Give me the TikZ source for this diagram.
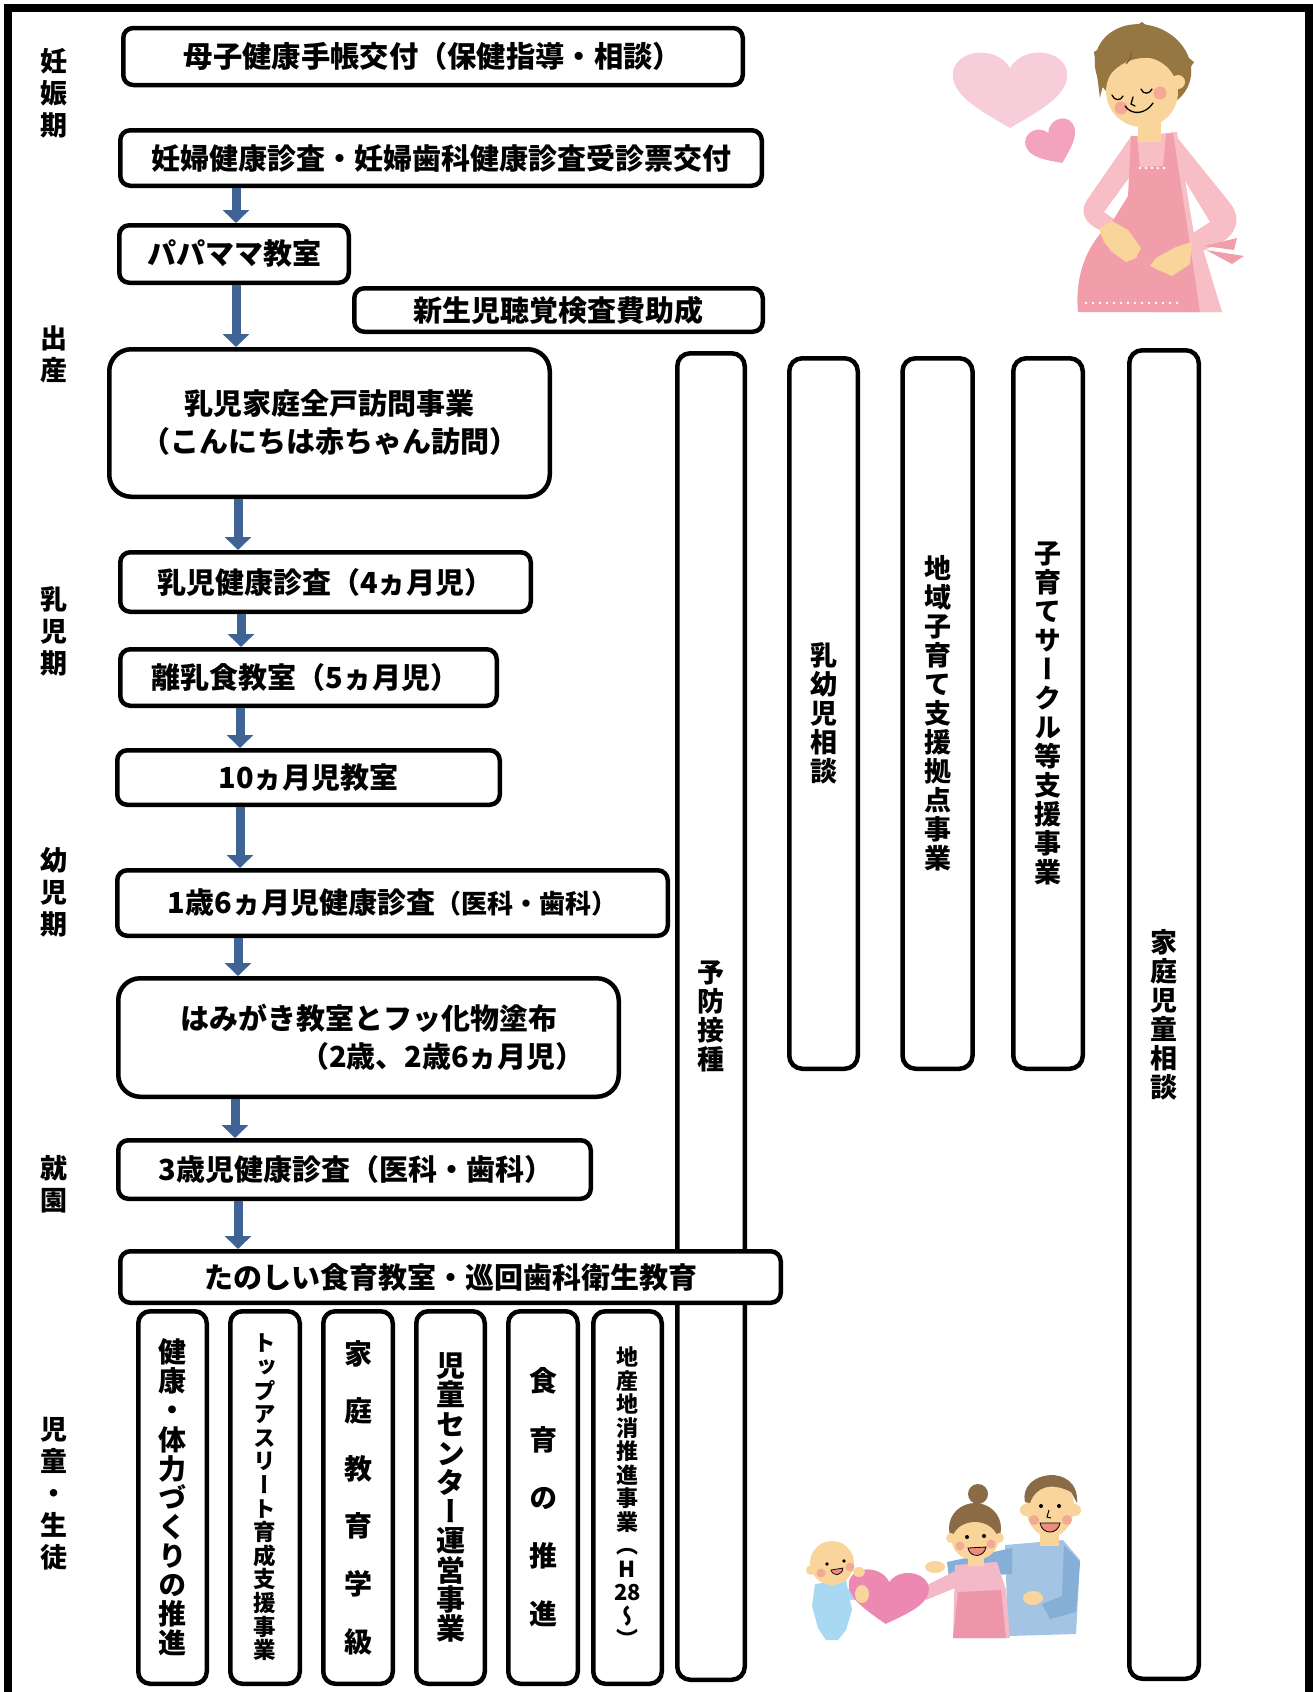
\documentclass[tikz,border=0pt]{standalone}
\usepackage{fontspec}
\newfontfamily\jp{Noto Sans CJK JP}
\newfontfamily\jpv{Noto Sans CJK JP}[RawFeature=+vert]
\usetikzlibrary{arrows.meta}
\definecolor{flowblue}{RGB}{62,99,148}
\definecolor{hair}{RGB}{150,118,65}
\definecolor{hairdark}{RGB}{139,107,69}
\definecolor{skin}{RGB}{250,213,155}
\definecolor{cheek}{RGB}{244,168,150}
\definecolor{sweater}{RGB}{247,190,198}
\definecolor{apron}{RGB}{242,158,170}
\definecolor{heartlight}{RGB}{247,205,217}
\definecolor{heartmid}{RGB}{243,163,190}
\definecolor{heartdeep}{RGB}{236,136,178}
\definecolor{shirtblue}{RGB}{163,196,226}
\definecolor{sleeveblue}{RGB}{133,175,215}
\definecolor{babyblue}{RGB}{168,216,242}
\definecolor{mouth}{RGB}{238,140,125}
\definecolor{momtop}{RGB}{244,185,200}
\definecolor{momapron}{RGB}{237,150,170}

\tikzset{
  heartpic/.pic={
    \fill[pic actions] (0,1) .. controls (-0.55,0.55) and (-1.05,0.15) .. (-1,-0.4)
      .. controls (-0.95,-0.95) and (-0.25,-1.1) .. (0,-0.5)
      .. controls (0.25,-1.1) and (0.95,-0.95) .. (1,-0.4)
      .. controls (1.05,0.15) and (0.55,0.55) .. (0,1) -- cycle;
  }
}

\begin{document}
\begin{tikzpicture}[x=1pt,y=-1pt,
  box/.style={draw,line width=4.5pt,fill=white,rounded corners=10pt,inner sep=0pt,
    align=center,font=\jp\bfseries\fontsize{29}{38}\selectfont},
  bigbox/.style={box,rounded corners=22pt},
  tall/.style={box,rounded corners=13pt,font=\jpv\bfseries\fontsize{27}{29}\selectfont},
  col/.style={box,rounded corners=12pt,minimum height=372.5pt},
  period/.style={inner sep=0pt,align=center,font=\jp\bfseries\fontsize{27}{32}\selectfont},
  flow/.style={draw=flowblue,line width=9pt,-{Triangle[width=26pt,length=13pt]}},
  face/.style={line width=1.3pt,line cap=round}
]
\useasboundingbox (0,0) rectangle (1313,1692);

% outer frame (open at the bottom)
\draw[line width=8pt] (7.5,1700) -- (7.5,8) -- (1309,8) -- (1309,1700);

% ---- period labels ----
\node[period] (p1) at (54,93) {妊\\娠\\期};
\node[period] (p2) at (54,354) {出\\産};
\node[period] (p3) at (54,631) {乳\\児\\期};
\node[period] (p4) at (54,892) {幼\\児\\期};
\node[period] (p5) at (54,1184) {就\\園};
\node[period] (p6) at (54,1494) {児\\童\\・\\生\\徒};

% ---- long vertical programmes ----
\node[tall,minimum width=67.5pt,minimum height=1326.5pt] (v1) at (711,1016.5) {予\\防\\接\\種};
\node[tall,minimum width=68.5pt,minimum height=710.5pt] (v2) at (823.5,713.5) {乳\\幼\\児\\相\\談};
\node[tall,minimum width=70pt,minimum height=710.5pt] (v3) at (937.5,713.5) {地\\域\\子\\育\\て\\支\\援\\拠\\点\\事\\業};
\node[tall,minimum width=69.5pt,minimum height=710.5pt] (v4) at (1048,713.5) {子\\育\\て\\サ\\ー\\ク\\ル\\等\\支\\援\\事\\業};
\node[tall,minimum width=69.5pt,minimum height=1328.5pt] (v5) at (1164,1014.5) {家\\庭\\児\\童\\相\\談};

% ---- flow of services ----
\node[box,minimum width=619.5pt,minimum height=57pt,font=\jp\bfseries\fontsize{29.3}{38}\selectfont] (b1) at (433,56.5) {母子健康手帳交付（保健指導・相談）};
\node[box,minimum width=641.5pt,minimum height=55.5pt] (b2) at (441,158) {妊婦健康診査・妊婦歯科健康診査受診票交付};
\node[box,minimum width=229.5pt,minimum height=57.5pt] (b3) at (234,254) {パパママ教室};
\node[box,minimum width=408.5pt,minimum height=43.5pt] (b4) at (558.5,310) {新生児聴覚検査費助成};
\node[bigbox,minimum width=440.5pt,minimum height=147.5pt] (b5) at (329.5,423) {乳児家庭全戸訪問事業\\（こんにちは赤ちゃん訪問）};
\node[box,minimum width=410.5pt,minimum height=59.5pt] (b6) at (325.5,582) {乳児健康診査（4ヵ月児）};
\node[box,minimum width=376.5pt,minimum height=56.5pt] (b7) at (308.5,677.5) {離乳食教室（5ヵ月児）\hspace*{6pt}};
\node[box,minimum width=382.5pt,minimum height=54.5pt] (b8) at (308.5,777.5) {10ヵ月児教室};
\node[box,minimum width=550.5pt,minimum height=65.5pt] (b9) at (392.5,903) {1歳6ヵ月児健康診査{\fontsize{26}{26}\selectfont（医科・歯科）}};
\node[bigbox,minimum width=500.5pt,minimum height=118.5pt] (b10) at (368.5,1037.5) {はみがき教室とフッ化物塗布\\\hspace*{148pt}（2歳、2歳6ヵ月児）};
\node[box,minimum width=472.5pt,minimum height=58.5pt] (b11) at (354.5,1169.5) {\hspace*{3pt}3歳児健康診査（医科・歯科）};
\node[box,minimum width=660.5pt,minimum height=51.5pt] (b12) at (450.5,1277) {たのしい食育教室・巡回歯科衛生教育};

% ---- school-age programmes ----
\node[col,minimum width=68.5pt,font=\jpv\bfseries\fontsize{28}{29.1}\selectfont] (c1) at (172.5,1497.5) {健\\康\\・\\体\\力\\づ\\く\\り\\の\\推\\進};
\node[col,minimum width=69.5pt,font=\jpv\bfseries\fontsize{22.5}{23.6}\selectfont] (c2) at (265,1497.5) {ト\\ッ\\プ\\ア\\ス\\リ\\ー\\ト\\育\\成\\支\\援\\事\\業};
\node[col,minimum width=69.5pt,font=\jpv\bfseries\fontsize{28}{57.6}\selectfont] (c3) at (358,1497.5) {家\\庭\\教\\育\\学\\級};
\node[col,minimum width=68.5pt,font=\jpv\bfseries\fontsize{29}{29.2}\selectfont] (c4) at (450.5,1497.5) {児\\童\\セ\\ン\\タ\\ー\\運\\営\\事\\業};
\node[col,minimum width=69.5pt,font=\jpv\bfseries\fontsize{28}{58.2}\selectfont] (c5) at (543,1497.5) {食\\育\\の\\推\\進};
\node[col,minimum width=68.5pt,font=\jpv\bfseries\fontsize{22}{23.5}\selectfont] (c6) at (627.5,1497.5) {地\\産\\地\\消\\推\\進\\事\\業\\（\\H\\28\\～\\）};

% ---- arrows ----
\coordinate (ax1) at (236,0);
\coordinate (ax2) at (238,0);
\coordinate (ax3) at (241,0);
\coordinate (ax4) at (240,0);
\coordinate (ax5) at (235,0);
\draw[flow] (b2.south -| ax1) -- (b3.north -| ax1);
\draw[flow] (b3.south -| ax1) -- (b5.north -| ax1);
\draw[flow] (b5.south -| ax2) -- (b6.north -| ax2);
\draw[flow] (b6.south -| ax3) -- (b7.north -| ax3);
\draw[flow] (b7.south -| ax4) -- (b8.north -| ax4);
\draw[flow] (b8.south -| ax4) -- (b9.north -| ax4);
\draw[flow] (b9.south -| ax2) -- (b10.north -| ax2);
\draw[flow] (b10.south -| ax5) -- (b11.north -| ax5);
\draw[flow] (b11.south -| ax2) -- (b12.north -| ax2);

% ---- hearts and expectant mother ----
\pic[fill=heartlight,xscale=57,yscale=40] at (1010,88) {heartpic};
\pic[fill=heartmid,rotate=25,xscale=26,yscale=22] at (1053,143) {heartpic};

% arms and sweater
\fill[sweater] (1132,135) -- (1087,200) .. controls (1079,212) and (1085,224) .. (1100,230)
  -- (1116,240) -- (1124,226) -- (1104,212) -- (1142,160) -- cycle;
\fill[sweater] (1172,131) -- (1230,203) .. controls (1242,218) and (1236,234) .. (1222,242)
  -- (1192,256) -- (1182,240) -- (1210,222) -- (1176,166) -- cycle;
\fill[sweater] (1130,137) -- (1177,132) -- (1196,246) -- (1222,312) -- (1150,312) -- cycle;
% neck and head
\fill[skin] (1138,118) rectangle (1161,142);
\fill[hair,rotate around={-20:(1143,67)}] (1143,67) ellipse [x radius=49pt,y radius=42pt];
\fill[skin,rotate around={-15:(1142,92)}] (1142,92) ellipse [x radius=36pt,y radius=35pt];
\fill[hair] (1100,98) .. controls (1104,70) and (1128,56) .. (1150,58)
  .. controls (1166,60) and (1177,70) .. (1181,82) -- (1194,62) -- (1142,22) -- (1094,52) -- cycle;
\draw[line width=1pt,hair!80!black] (1126,64) .. controls (1130,60) and (1132,56) .. (1131,52);
\fill[skin] (1178,82) circle (7pt);
\fill[cheek] (1121,108) circle (6.5pt);
\fill[cheek] (1160,93) circle (6.5pt);
\draw[face] (1112,95) .. controls (1114,101) and (1121,101) .. (1123,96);
\draw[face] (1141,89) .. controls (1143,95) and (1150,94) .. (1152,89);
\draw[face] (1133,97) -- (1131,104) -- (1135,106);
\draw[face] (1125,106) .. controls (1132,116) and (1146,114) .. (1153,103);
% apron
\fill[apron] (1131,136) -- (1137,136) -- (1140,167) -- (1163,166) -- (1166,134) -- (1173,133)
  -- (1178,166) -- (1188,232) -- (1200,312) -- (1078,312)
  .. controls (1074,272) and (1090,240) .. (1112,222) -- (1128,196) -- cycle;
\fill[sweater] (1192,246) -- (1202,246) -- (1222,312) -- (1200,312) -- cycle;
\foreach \i in {0,...,4} \fill[white] (1140+\i*6,168) circle (1.3pt);
\foreach \i in {0,...,13} \fill[white] (1086+\i*7,303) circle (1.3pt);
\fill[apron] (1204,246) -- (1237,238) -- (1234,250) -- cycle;
\fill[apron] (1206,250) -- (1244,256) -- (1232,264) -- cycle;
% hands
\fill[skin] (1099,229) -- (1112,221) -- (1128,230) -- (1141,248) -- (1136,258) -- (1126,262)
  -- (1112,252) -- (1104,242) -- cycle;
\fill[skin] (1192,242) -- (1176,247) -- (1156,258) -- (1150,266) -- (1158,270) -- (1172,276)
  -- (1190,264) -- cycle;

% ---- family ----
% father
\fill[shirtblue] (1005,1545) -- (1063,1540) -- (1080,1560) -- (1076,1634) -- (1008,1636) -- cycle;
\fill[sleeveblue] (1012,1548) -- (947,1562) -- (949,1578) -- (1012,1574) -- cycle;
\fill[sleeveblue] (1064,1545) -- (1080,1562) -- (1076,1612) -- (1050,1619) -- (1042,1604)
  -- (1062,1596) -- cycle;
\fill[skin] (1040,1528) rectangle (1059,1546);
\fill[skin] (1050,1507) ellipse [x radius=24pt,y radius=30pt];
\fill[skin] (1026,1510) circle (6pt);
\fill[skin] (1075,1510) circle (6pt);
\fill[hairdark] (1025,1502) .. controls (1018,1470) and (1080,1462) .. (1077,1503)
  -- (1071,1492) .. controls (1052,1482) and (1036,1486) .. (1030,1503) -- cycle;
\fill[cheek] (1034,1520) circle (5pt);
\fill[cheek] (1067,1520) circle (5pt);
\fill (1041,1506) circle (2pt);
\fill (1059,1506) circle (2pt);
\draw[line width=1pt] (1049,1510) -- (1047,1517) -- (1051,1518);
\fill[mouth,draw=black,line width=0.8pt] (1040,1523) -- (1060,1523) .. controls (1058,1535) and (1042,1535) .. (1040,1523) -- cycle;
\fill[skin] (1033,1598) ellipse [x radius=10pt,y radius=7pt];
% mother
\fill[momtop] (955,1565) -- (997,1562) -- (1006,1590) -- (1010,1638) -- (953,1638) -- cycle;
\fill[momapron] (958,1592) -- (1001,1590) -- (1006,1638) -- (953,1638) -- cycle;
\fill[momtop] (957,1570) -- (921,1588) -- (926,1600) -- (960,1586) -- cycle;
\fill[skin] (968,1552) rectangle (984,1566);
\fill[hairdark] (978,1494) circle (10pt);
\fill[hairdark] (975,1528) ellipse [x radius=26pt,y radius=25pt];
\fill[skin] (975,1541) ellipse [x radius=23pt,y radius=19pt];
\fill[skin] (951,1538) circle (5pt);
\fill[skin] (999,1538) circle (5pt);
\fill[cheek] (960,1546) circle (4.5pt);
\fill[cheek] (991,1544) circle (4.5pt);
\fill (967,1537) circle (2pt);
\fill (984,1536) circle (2pt);
\fill[mouth,draw=black,line width=0.8pt] (968,1548) -- (986,1547) .. controls (984,1558) and (970,1558) .. (968,1548) -- cycle;
\fill[skin] (920,1590) ellipse [x radius=9pt,y radius=7pt];
\fill[skin] (935,1567) ellipse [x radius=10pt,y radius=6pt];
% baby and heart
\fill[babyblue] (815,1584) -- (846,1580) -- (852,1610) -- (846,1630) -- (838,1640) -- (826,1640)
  -- (818,1628) -- (812,1606) -- cycle;
\fill[babyblue] (838,1588) -- (860,1590) -- (860,1600) -- (840,1600) -- cycle;
\pic[fill=heartdeep,rotate=-5,xscale=40,yscale=28] at (888,1596) {heartpic};
\fill[skin] (832,1563) circle (22pt);
\fill[skin] (811,1570) circle (5pt);
\fill[cheek] (821,1573) circle (4.5pt);
\fill[cheek] (850,1567) circle (4.5pt);
\fill (827,1564) circle (1.8pt);
\fill (844,1561) circle (1.8pt);
\fill[mouth,draw=black,line width=0.7pt] (831,1570) -- (843,1568) .. controls (842,1576) and (833,1577) .. (831,1570) -- cycle;
\fill[skin] (862,1594) ellipse [x radius=7pt,y radius=9pt];
\fill[skin] (859,1572) ellipse [x radius=6pt,y radius=5pt];
\end{tikzpicture}
\end{document}
